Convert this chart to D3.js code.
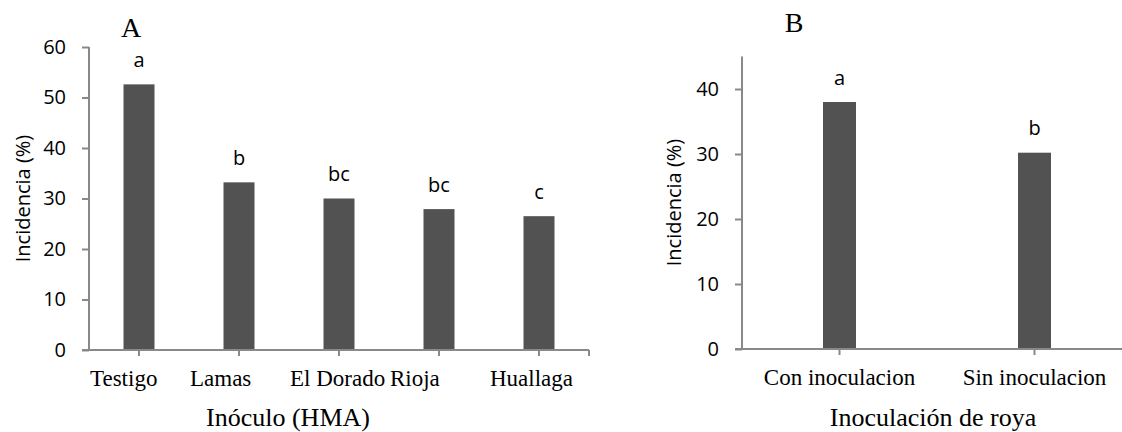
<!DOCTYPE html>
<html><head><meta charset="utf-8">
<script src="https://cdn.jsdelivr.net/npm/d3@7"></script>
<style>body{margin:0;background:#fff}svg{display:block}</style>
</head><body>
<svg id="c" width="1122" height="432"></svg>
<script>
const catsA = ["Testigo","Lamas","El Dorado","Rioja","Huallaga"];
const valsA = [52.6, 33.2, 30.0, 27.9, 26.5];
const lettersA = ["a","b","bc","bc","c"];
const ticksA = [0,10,20,30,40,50,60];

const catsB = ["Con inoculacion","Sin inoculacion"];
const valsB = [38.0, 30.2];
const lettersB = ["a","b"];
const ticksB = [0,10,20,30,40];

const svg = d3.select("#c");
const axisColor = "#898989", barColor = "#525252";
const sans = "'Open Sans', sans-serif", serif = "'Liberation Serif', 'Times New Roman', serif";
const sansSize = 20, catSize = 23;

function panel(o){
  const g = svg.append("g");
  const x = d3.scaleBand().domain(o.cats).range([o.x0, o.x1]).paddingInner(0).paddingOuter(0);
  const y = d3.scaleLinear().domain([0, o.ymax]).range([o.y0, o.y1]);
  const bw = o.bw;
  g.selectAll("rect.bar").data(o.vals).enter().append("rect")
    .attr("x",(d,i)=>x(o.cats[i])+x.bandwidth()/2-bw/2)
    .attr("y",d=>y(d)).attr("width",bw).attr("height",d=>y(0)-y(d))
    .attr("fill",barColor);
  g.selectAll("text.let").data(o.vals).enter().append("text")
    .attr("x",(d,i)=>x(o.cats[i])+x.bandwidth()/2)
    .attr("y",d=>y(d)-17.5).attr("text-anchor","middle")
    .attr("font-family",sans).attr("font-size",sansSize).attr("fill","#000")
    .text((d,i)=>o.letters[i]);
  const ya = d3.axisLeft(y).tickValues(o.ticks).tickSize(7).tickPadding(16);
  const yg = g.append("g").attr("transform",`translate(${o.x0},0)`).call(ya);
  yg.select(".domain").remove();
  yg.append("line").attr("x1",0).attr("x2",0).attr("y1",y(o.ymax)).attr("y2",y(0)).attr("stroke",axisColor).attr("stroke-width",2);
  yg.selectAll(".tick line").attr("stroke",axisColor).attr("stroke-width",2);
  yg.selectAll(".tick text").attr("font-family",sans).attr("font-size",sansSize).attr("fill","#000");
  const xa = d3.axisBottom(x).tickSize(6).tickPadding(14);
  const xg = g.append("g").attr("transform",`translate(0,${o.y0})`).call(xa);
  xg.select(".domain").remove();
  xg.append("line").attr("x1",o.x0-7).attr("x2",o.x1).attr("y1",0).attr("y2",0).attr("stroke",axisColor).attr("stroke-width",2);
  if(o.endTick) xg.append("line").attr("x1",o.x1).attr("x2",o.x1).attr("y1",0).attr("y2",6).attr("stroke",axisColor).attr("stroke-width",2);
  xg.selectAll(".tick line").attr("stroke",axisColor).attr("stroke-width",2);
  const tt = xg.selectAll(".tick text").attr("font-family",serif).attr("font-size",catSize).attr("fill","#000");
  if(o.leftLabels) tt.attr("text-anchor","start").attr("x",-x.bandwidth()/2+1);
  g.append("text").attr("transform",`translate(${o.ytx},${o.yty}) rotate(-90)`)
    .attr("text-anchor","middle").attr("dominant-baseline","central")
    .attr("font-family",sans).attr("font-size",sansSize).text("Incidencia (%)");
  g.append("text").attr("x",o.xtx).attr("y",426).attr("text-anchor","middle")
    .attr("font-family",serif).attr("font-size",26).text(o.xtitle);
  g.append("text").attr("x",o.lx).attr("y",o.ly).attr("text-anchor","middle")
    .attr("font-family",serif).attr("font-size",28).text(o.label);
}

panel({cats:catsA, vals:valsA, letters:lettersA, ticks:ticksA, ymax:60,
  x0:89, x1:589, y0:350, y1:47, bw:31, endTick:true, leftLabels:true,
  ytx:22, yty:198.5, xtx:288, xtitle:"Inóculo (HMA)", label:"A", lx:131, ly:37});
panel({cats:catsB, vals:valsB, letters:lettersB, ticks:ticksB, ymax:45,
  x0:742, x1:1132, y0:349, y1:56.5, bw:33, endTick:false, leftLabels:false,
  ytx:673, yty:202.5, xtx:933, xtitle:"Inoculación de roya", label:"B", lx:794, ly:32});
</script>
</body></html>
